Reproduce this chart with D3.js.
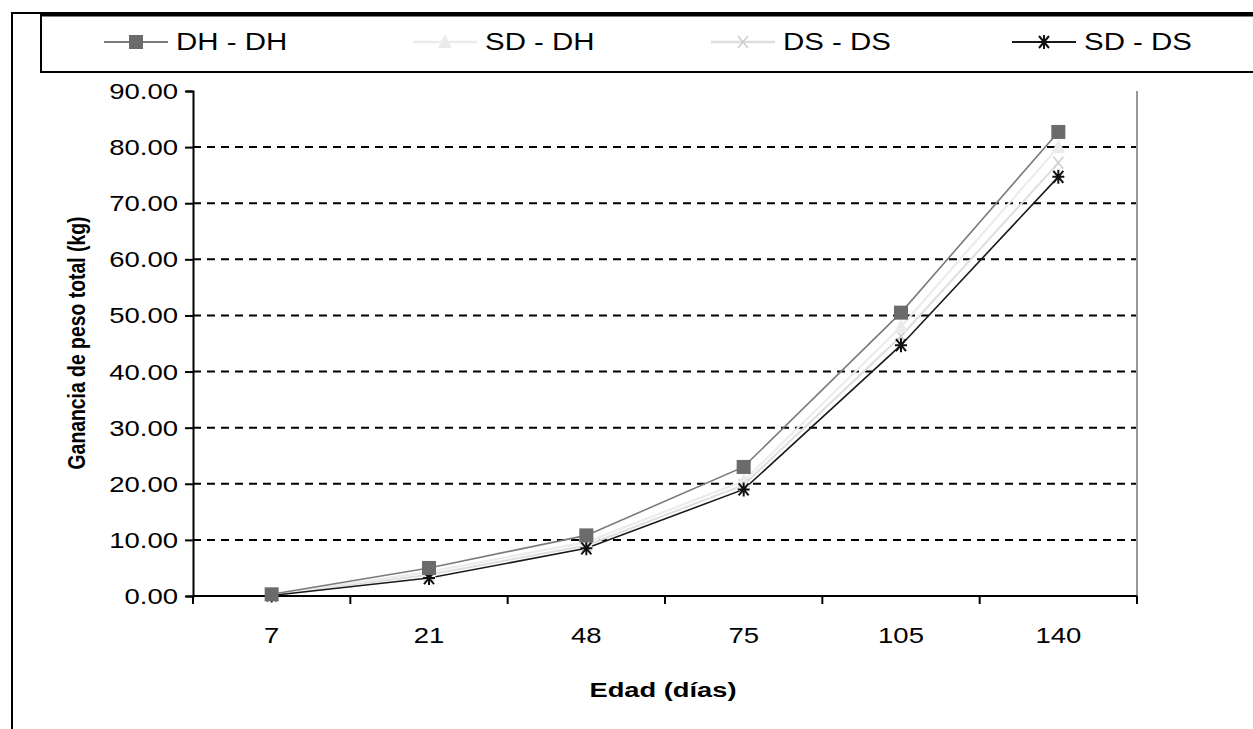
<!DOCTYPE html>
<html>
<head>
<meta charset="utf-8">
<script src="https://cdn.jsdelivr.net/npm/d3@7"></script>
<style>
  html, body { margin: 0; padding: 0; background: #fff; }
  svg { display: block; font-family: "Liberation Sans", Arial, sans-serif; }
</style>
</head>
<body>
<svg id="chart" width="1253" height="729"></svg>
<script>
// Age in days (x categories) and cumulative weight gain (kg) per treatment
const ages = ["7", "21", "48", "75", "105", "140"];
const dhdh = [0.3, 5.0, 10.8, 23.0, 50.5, 82.7];
const sddh = [0.2, 4.3, 9.6, 20.5, 48.0, 80.0];
const dsds = [0.2, 3.8, 9.0, 19.8, 46.3, 77.2];
const sdds = [0.1, 3.2, 8.5, 19.0, 44.7, 74.7];
const seriesNames = ["DH - DH", "SD - DH", "DS - DS", "SD - DS"];
const yTicks = [0, 10, 20, 30, 40, 50, 60, 70, 80, 90];
const xTitle = "Edad (días)";
const yTitle = "Ganancia de peso total (kg)";

const series = [
  { name: seriesNames[0], values: dhdh, stroke: "#7a7a7a", width: 1.6, marker: "square", fill: "#6b6b6b" },
  { name: seriesNames[1], values: sddh, stroke: "#ececec", width: 2.2, marker: "triangle", fill: "#ebebeb" },
  { name: seriesNames[2], values: dsds, stroke: "#dedede", width: 2, marker: "cross", fill: "#cfcfcf" },
  { name: seriesNames[3], values: sdds, stroke: "#1a1a1a", width: 1.6, marker: "star", fill: "#111" }
];

const svg = d3.select("#chart");
const sx = 1.25; // horizontal stretch of the lettering

// Place text with a horizontal stretch around its anchor point
function label(g, x, y, str, opts = {}) {
  return g.append("text")
    .attr("transform", `translate(${x},${y}) scale(${opts.sx || sx},1)`)
    .attr("text-anchor", opts.anchor || "start")
    .attr("dominant-baseline", "central")
    .attr("font-size", opts.size || 22)
    .attr("font-weight", opts.bold ? "bold" : "normal")
    .attr("fill", "#000")
    .text(str);
}

// Outer frame (left and top edges visible)
svg.append("path")
  .attr("d", "M12,729 L12,13 L1253,13")
  .attr("fill", "none").attr("stroke", "#000").attr("stroke-width", 2);

// Legend box
svg.append("rect")
  .attr("x", 41).attr("y", 15).attr("width", 1230).attr("height", 57)
  .attr("fill", "#fff").attr("stroke", "#000").attr("stroke-width", 2);
svg.append("line").attr("x1", 41).attr("x2", 1253).attr("y1", 15).attr("y2", 15)
  .attr("stroke", "#000").attr("stroke-width", 3);

// Scales
const x = d3.scaleBand().domain(ages).range([193, 1137]);
const y = d3.scaleLinear().domain([0, 90]).range([596, 91]);

const plot = svg.append("g");

// Dashed gridlines
plot.selectAll("line.grid").data(yTicks.filter(v => v > 0 && v < 90)).enter()
  .append("line").attr("class", "grid")
  .attr("x1", 193).attr("x2", 1137)
  .attr("y1", d => y(d)).attr("y2", d => y(d))
  .attr("stroke", "#000").attr("stroke-width", 2).attr("stroke-dasharray", "8,6");

// Right border of the plot area
plot.append("line").attr("x1", 1137).attr("x2", 1137).attr("y1", 91).attr("y2", 596)
  .attr("stroke", "#999").attr("stroke-width", 2);

// Y axis
const yAxis = d3.axisLeft(y).tickValues(yTicks).tickSize(7).tickFormat(() => "");
const gy = plot.append("g").attr("transform", "translate(193,0)").call(yAxis);
gy.select(".domain").attr("stroke", "#000").attr("stroke-width", 2);
gy.selectAll(".tick line").attr("stroke", "#000").attr("stroke-width", 2).attr("x2", -8);
yTicks.forEach(v => label(plot, 178, y(v), d3.format(".2f")(v), { anchor: "end" }));

// X axis: ticks at category boundaries
const xBounds = ages.map(a => x(a)).concat([x.range()[1]]);
plot.append("line").attr("x1", 193).attr("x2", 1137).attr("y1", 596).attr("y2", 596)
  .attr("stroke", "#000").attr("stroke-width", 2);
plot.selectAll("line.xt").data(xBounds).enter().append("line").attr("class", "xt")
  .attr("x1", d => d).attr("x2", d => d).attr("y1", 596).attr("y2", 604)
  .attr("stroke", "#000").attr("stroke-width", 2);
ages.forEach(a => label(plot, x(a) + x.bandwidth() / 2, 635, a, { anchor: "middle" }));

// Axis titles
label(svg, 663, 690, xTitle, { anchor: "middle", bold: true, size: 21, sx: 1.3 });
svg.append("text")
  .attr("transform", `translate(77,343) rotate(-90) scale(1.02,1.3)`)
  .attr("text-anchor", "middle").attr("dominant-baseline", "central")
  .attr("font-size", 19).attr("font-weight", "bold").text(yTitle);

// Marker drawing
function drawMarker(g, kind, cx, cy, fill) {
  if (kind === "square") {
    g.append("rect").attr("x", cx - 7).attr("y", cy - 7).attr("width", 14).attr("height", 14).attr("fill", fill);
  } else if (kind === "triangle") {
    g.append("path").attr("d", `M${cx},${cy - 8} L${cx + 7},${cy + 6} L${cx - 7},${cy + 6} Z`).attr("fill", fill);
  } else if (kind === "cross") {
    g.append("path").attr("d", `M${cx - 5},${cy - 6} L${cx + 5},${cy + 6} M${cx + 5},${cy - 6} L${cx - 5},${cy + 6}`)
      .attr("stroke", fill).attr("stroke-width", 1.6);
  } else if (kind === "star") {
    g.append("path").attr("d",
      `M${cx - 5},${cy - 6} L${cx + 5},${cy + 6} M${cx + 5},${cy - 6} L${cx - 5},${cy + 6} M${cx},${cy - 7} L${cx},${cy + 7} M${cx - 6},${cy} L${cx + 6},${cy}`)
      .attr("stroke", fill).attr("stroke-width", 2);
  }
}

// Series lines and markers (light series first so the darker ones stay on top)
const lineGen = d3.line().x((d, i) => x(ages[i]) + x.bandwidth() / 2).y(d => y(d));
const order = [2, 1, 3, 0];
order.forEach(k => {
  const s = series[k];
  plot.append("path").datum(s.values).attr("d", lineGen)
    .attr("fill", "none").attr("stroke", s.stroke).attr("stroke-width", s.width);
});
order.forEach(k => {
  const s = series[k];
  s.values.forEach((v, i) => drawMarker(plot, s.marker, x(ages[i]) + x.bandwidth() / 2, y(v), s.fill));
});

// Legend entries
const legendX = [104, 413, 711, 1012];
series.forEach((s, i) => {
  const lx = legendX[i];
  svg.append("line").attr("x1", lx).attr("x2", lx + 64).attr("y1", 42).attr("y2", 42)
    .attr("stroke", s.stroke).attr("stroke-width", s.width + 0.4);
  drawMarker(svg, s.marker, lx + 32, 42, s.fill);
  label(svg, lx + 72, 42, s.name, { size: 23, sx: 1.28 });
});
</script>
</body>
</html>
